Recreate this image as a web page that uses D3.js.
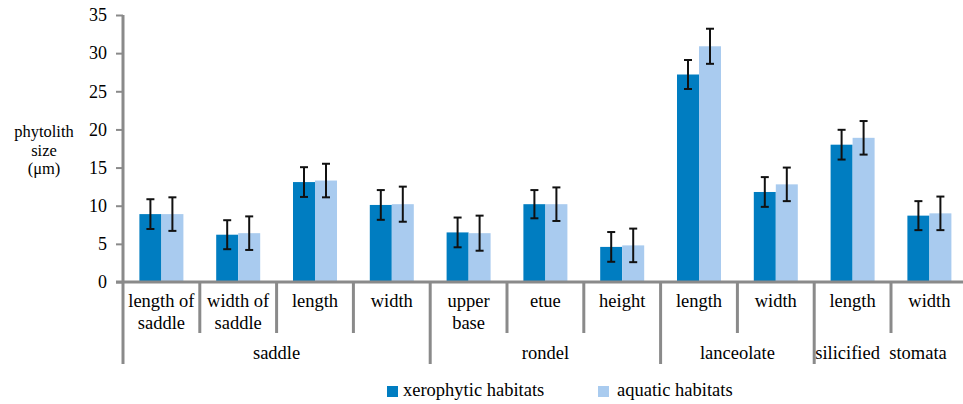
<!DOCTYPE html>
<html>
<head>
<script src="https://cdn.jsdelivr.net/npm/d3@7"></script>
</head>
<body style="margin:0; font-family: 'Liberation Serif', 'Times New Roman', serif;">
<script>
// data
var categories = [
  ["length of", "saddle"], ["width of", "saddle"], ["length"], ["width"],
  ["upper", "base"], ["etue"], ["height"],
  ["length"], ["width"],
  ["length"], ["width"]
];
var groups = [
  { name: "saddle", start: 0, end: 4 },
  { name: "rondel", start: 4, end: 7 },
  { name: "lanceolate", start: 7, end: 9 },
  { name: "silicified  stomata", start: 9, end: 11 }
];
var seriesNames = ["xerophytic habitats", "aquatic habitats"];
var seriesColors = ["#007dc1", "#a9cbef"];
var xeroValues = [8.9, 6.2, 13.1, 10.1, 6.5, 10.2, 4.6, 27.2, 11.8, 18.0, 8.7];
var xeroErrors = [1.95, 1.9, 1.95, 1.95, 1.95, 1.85, 1.95, 1.9, 1.95, 1.95, 1.9];
var aquaValues = [8.9, 6.4, 13.3, 10.2, 6.4, 10.2, 4.8, 30.9, 12.8, 18.9, 9.0];
var aquaErrors = [2.2, 2.2, 2.2, 2.3, 2.3, 2.2, 2.2, 2.3, 2.2, 2.2, 2.2];
var yTicks = [0, 5, 10, 15, 20, 25, 30, 35];

var width = 963, height = 404;
var axisColor = "#8a8a8a";

var svg = d3.select("body").append("svg")
  .attr("width", width)
  .attr("height", height);

// every label uses the serif face through the font shorthand
function label(sel, size) {
  return sel.style("font", size + "px 'Times New Roman'").attr("fill", "#000");
}

var y = d3.scaleLinear().domain([0, 35]).range([282, 15]);
var x0 = d3.scaleBand()
  .domain(d3.range(categories.length))
  .range([123, 123 + 76.8 * categories.length])
  .padding(0);
var bw = x0.bandwidth();
var x1 = d3.scaleBand()
  .domain([0, 1])
  .range([bw / 2 - 22, bw / 2 + 22])
  .padding(0);

var series = [
  { values: xeroValues, errors: xeroErrors },
  { values: aquaValues, errors: aquaErrors }
];

// bars
series.forEach(function(s, si) {
  svg.append("g").selectAll("rect")
    .data(s.values)
    .enter().append("rect")
    .attr("x", function(d, i) { return x0(i) + x1(si); })
    .attr("y", function(d) { return y(d); })
    .attr("width", x1.bandwidth())
    .attr("height", function(d) { return y(0) - y(d); })
    .attr("fill", seriesColors[si]);
});

// error bars
series.forEach(function(s, si) {
  var g = svg.append("g").attr("stroke", "#111").attr("stroke-width", 2);
  s.values.forEach(function(v, i) {
    var cx = x0(i) + x1(si) + x1.bandwidth() / 2;
    var top = y(v + s.errors[i]), bot = y(v - s.errors[i]);
    g.append("line").attr("x1", cx).attr("x2", cx).attr("y1", top).attr("y2", bot);
    g.append("line").attr("x1", cx - 4).attr("x2", cx + 4).attr("y1", top).attr("y2", top);
    g.append("line").attr("x1", cx - 4).attr("x2", cx + 4).attr("y1", bot).attr("y2", bot);
  });
});

// y axis
var yAxis = svg.append("g")
  .attr("transform", "translate(123,0)")
  .call(d3.axisLeft(y).tickValues(yTicks).tickSize(7).tickPadding(9));
yAxis.attr("font-family", null).attr("font-size", null);
yAxis.select(".domain").attr("stroke", axisColor).attr("stroke-width", 3)
  .attr("d", "M0," + y(35) + "V" + y(0));
yAxis.selectAll(".tick line").attr("stroke", axisColor).attr("stroke-width", 2);
label(yAxis.selectAll(".tick text"), 18);

// y label
["phytolith", "size", "(\u03bcm)"].forEach(function(t, i) {
  label(svg.append("text"), 16.5)
    .attr("x", 44).attr("y", 137 + i * 18.5)
    .attr("text-anchor", "middle")
    .text(t);
});

// x axis line
var xEnd = x0.range()[1];
svg.append("line")
  .attr("x1", 116).attr("x2", xEnd).attr("y1", y(0)).attr("y2", y(0))
  .attr("stroke", axisColor).attr("stroke-width", 3);

// category dividers
var groupEdges = groups.map(function(g) { return g.start; }).concat([categories.length]);
d3.range(categories.length + 1).forEach(function(i) {
  var xx = i < categories.length ? x0(i) : xEnd;
  var isGroup = groupEdges.indexOf(i) >= 0;
  svg.append("line")
    .attr("x1", xx).attr("x2", xx)
    .attr("y1", y(0)).attr("y2", isGroup ? 364 : 333)
    .attr("stroke", axisColor).attr("stroke-width", 3);
});

// category labels
categories.forEach(function(lines, i) {
  lines.forEach(function(l, li) {
    label(svg.append("text"), 18.5)
      .attr("x", x0(i) + bw / 2).attr("y", 307 + li * 22)
      .attr("text-anchor", "middle")
      .text(l);
  });
});

// group labels
groups.forEach(function(g) {
  var cx = (x0(g.start) + (g.end < categories.length ? x0(g.end) : xEnd)) / 2;
  label(svg.append("text"), 18.5)
    .attr("x", g.end === categories.length ? cx - 10 : cx)
    .attr("y", 359)
    .attr("text-anchor", "middle")
    .style("white-space", "pre")
    .text(g.name);
});

// legend
var legendX = [387, 598];
seriesNames.forEach(function(name, i) {
  svg.append("rect")
    .attr("x", legendX[i]).attr("y", 386)
    .attr("width", 11).attr("height", 11)
    .attr("fill", seriesColors[i]);
  label(svg.append("text"), 18.5)
    .attr("x", legendX[i] + (i === 0 ? 16 : 19)).attr("y", 396)
    .text(name);
});
</script>
</body>
</html>
